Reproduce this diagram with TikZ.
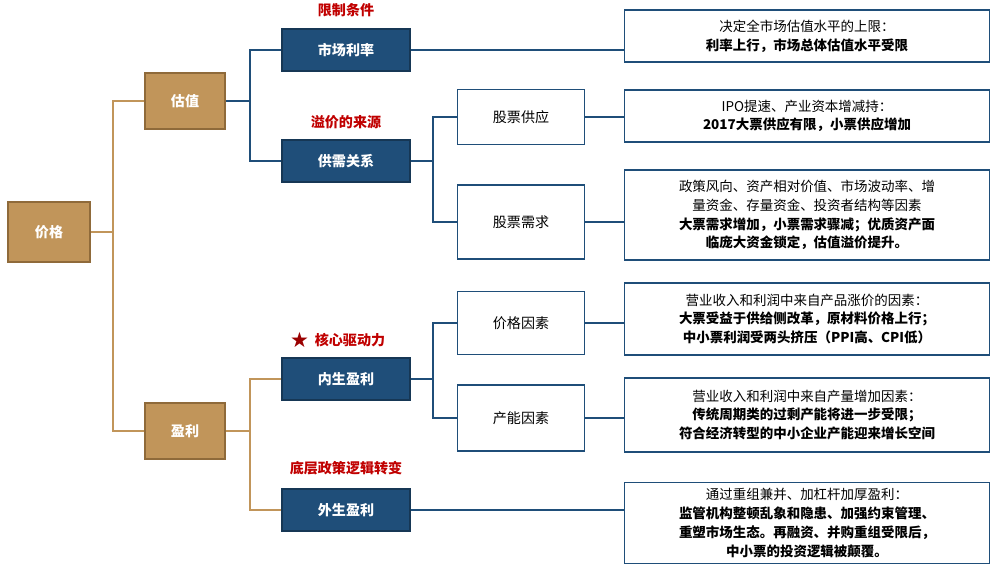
\documentclass[tikz,border=0pt]{standalone}
\usepackage{fontspec}
\setmainfont{Noto Sans CJK SC}
\newfontfamily\symfont{DejaVu Sans}
\usetikzlibrary{positioning}
\definecolor{tan}{HTML}{C1955A}
\definecolor{tanline}{HTML}{8F6A3A}
\definecolor{navy}{HTML}{1F4E79}
\definecolor{redlab}{HTML}{C00000}
\tikzset{
  brownbox/.style={draw=tanline,line width=1.5pt,fill=tan,text=white,font=\bfseries\fontsize{12}{14}\selectfont},
  bluebox/.style={draw=navy!70!black,line width=1.2pt,fill=navy,text=white,font=\bfseries\fontsize{12}{14}\selectfont},
  whitebox/.style={draw=navy,line width=1.5pt,fill=white,font=\fontsize{12}{14}\selectfont},
  notebox/.style={draw=navy,line width=1.5pt,fill=white,align=center,font=\fontsize{11.5}{16}\selectfont},
  redlabel/.style={text=redlab,font=\bfseries\fontsize{12}{14}\selectfont},
  tanlink/.style={tan,line width=1.6pt},
  bluelink/.style={navy,line width=1.6pt}
}
\begin{document}
\begin{tikzpicture}[x=0.03cm,y=-0.03cm]
\useasboundingbox (0,0) rectangle (1000,568);
% first and second level
\node[brownbox,minimum width=82*0.03cm,minimum height=60*0.03cm] (jg) at (49,232) {价格};
\node[brownbox,minimum width=80*0.03cm,minimum height=56*0.03cm] (gz) at (185,101) {估值};
\node[brownbox,minimum width=80*0.03cm,minimum height=56*0.03cm] (yl) at (185,431) {盈利};
% third level
\node[bluebox,minimum width=128*0.03cm,minimum height=42*0.03cm] (sc) at (346,50) {市场利率};
\node[bluebox,minimum width=128*0.03cm,minimum height=42*0.03cm] (gx) at (346,161) {供需关系};
\node[bluebox,minimum width=128*0.03cm,minimum height=42*0.03cm] (ns) at (346,379) {内生盈利};
\node[bluebox,minimum width=128*0.03cm,minimum height=42*0.03cm] (ws) at (346,510) {外生盈利};
\node[redlabel] (l1) at (346,10) {限制条件};
\node[redlabel] (l2) at (346,122) {溢价的来源};
\node[redlabel] (l3) at (350,340) {核心驱动力};
\node[text=redlab!80!black,font=\symfont\fontsize{18}{18}\selectfont,left=-2pt of l3] (star) {★};
\node[redlabel] (l4) at (346,468) {底层政策逻辑转变};
% fourth level
\node[whitebox,minimum width=127*0.03cm,minimum height=55*0.03cm] (gy) at (521,117) {股票供应};
\node[whitebox,minimum width=127*0.03cm,minimum height=74*0.03cm] (xq) at (521,222) {股票需求};
\node[whitebox,minimum width=127*0.03cm,minimum height=63*0.03cm] (jy) at (521,323) {价格因素};
\node[whitebox,minimum width=127*0.03cm,minimum height=66*0.03cm] (cn) at (521,418) {产能因素};
% notes
\node[notebox,minimum width=365*0.03cm,minimum height=52*0.03cm] (n1) at (807,36) {决定全市场估值水平的上限：\\\textbf{利率上行，市场总体估值水平受限}};
\node[notebox,minimum width=365*0.03cm,minimum height=52*0.03cm] (n2) at (807,116) {IPO提速、产业资本增减持：\\\textbf{2017大票供应有限，小票供应增加}};
\node[notebox,minimum width=365*0.03cm,minimum height=90*0.03cm] (n3) at (807,215) {政策风向、资产相对价值、市场波动率、增\\量资金、存量资金、投资者结构等因素\\\textbf{大票需求增加，小票需求骤减；优质资产面}\\\textbf{临庞大资金锁定，估值溢价提升。}};
\node[notebox,minimum width=365*0.03cm,minimum height=72*0.03cm] (n4) at (807,319) {营业收入和利润中来自产品涨价的因素：\\\textbf{大票受益于供给侧改革，原材料价格上行；}\\\textbf{中小票利润受两头挤压（PPI高、CPI低）}};
\node[notebox,minimum width=365*0.03cm,minimum height=74*0.03cm] (n5) at (807,415) {营业收入和利润中来自产量增加因素：\\\textbf{传统周期类的过剩产能将进一步受限；}\\\textbf{符合经济转型的中小企业产能迎来增长空间}};
\node[notebox,minimum width=365*0.03cm,minimum height=81*0.03cm] (n6) at (807,523) {通过重组兼并、加杠杆加厚盈利：\\\textbf{监管机构整顿乱象和隐患、加强约束管理、}\\\textbf{重塑市场生态。再融资、并购重组受限后，}\\\textbf{中小票的投资逻辑被颠覆。}};
% connectors
\draw[tanlink] (jg.east) -- (113,232) |- (gz.west);
\draw[tanlink] (113,232) |- (yl.west);
\draw[bluelink] (gz.east) -- (250,101) |- (sc.west);
\draw[bluelink] (250,101) |- (gx.west);
\draw[tanlink] (yl.east) -- (250,431) |- (ns.west);
\draw[tanlink] (250,431) |- (ws.west);
\draw[bluelink] (gx.east) -- (433,161) |- (gy.west);
\draw[bluelink] (433,161) |- (xq.west);
\draw[bluelink] (ns.east) -- (433,379) |- (jy.west);
\draw[bluelink] (433,379) |- (cn.west);
\draw[bluelink] (sc.east) -- (n1.west |- sc.east);
\draw[bluelink] (gy.east) -- (n2.west |- gy.east);
\draw[bluelink] (xq.east) -- (n3.west |- xq.east);
\draw[bluelink] (jy.east) -- (n4.west |- jy.east);
\draw[bluelink] (cn.east) -- (n5.west |- cn.east);
\draw[bluelink] (ws.east) -- (n6.west |- ws.east);
\end{tikzpicture}
\end{document}
